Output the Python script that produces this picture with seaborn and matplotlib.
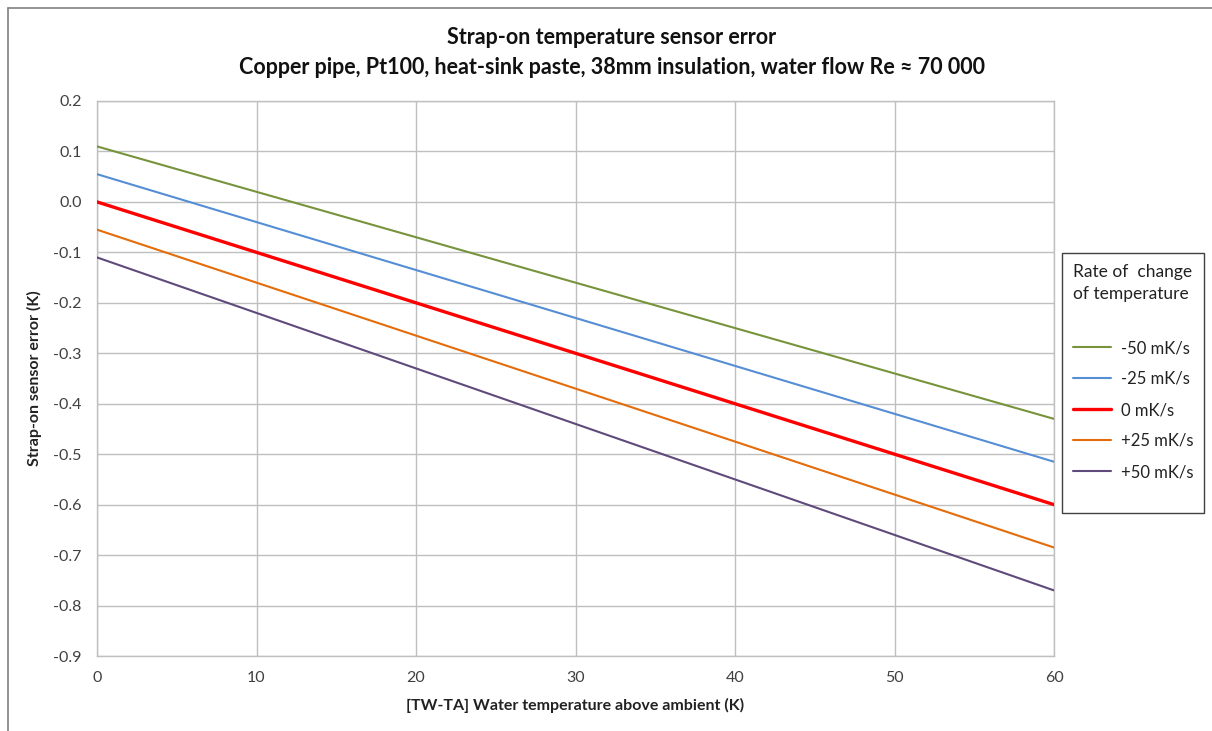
import numpy as np
import pandas as pd
import matplotlib
matplotlib.use("Agg")
import matplotlib.pyplot as plt
from matplotlib.lines import Line2D
from matplotlib.patches import Rectangle
import seaborn as sns

x_vals = [0, 10, 20, 30, 40, 50, 60]
series_labels = ["-50 mK/s", "-25 mK/s", "0 mK/s", "+25 mK/s", "+50 mK/s"]
s_m50 = [0.11, 0.02, -0.07, -0.16, -0.25, -0.34, -0.43]
s_m25 = [0.055, -0.04, -0.135, -0.23, -0.325, -0.42, -0.515]
s_0 = [0.0, -0.1, -0.2, -0.3, -0.4, -0.5, -0.6]
s_p25 = [-0.055, -0.16, -0.265, -0.37, -0.475, -0.58, -0.685]
s_p50 = [-0.11, -0.22, -0.33, -0.44, -0.55, -0.66, -0.77]
y_ticks = [-0.9, -0.8, -0.7, -0.6, -0.5, -0.4, -0.3, -0.2, -0.1, 0.0, 0.1, 0.2]
y_tick_labels = ["-0.9", "-0.8", "-0.7", "-0.6", "-0.5", "-0.4", "-0.3", "-0.2",
                 "-0.1", "0.0", "0.1", "0.2"]
colors = ["#77933C", "#558ED5", "#FF0000", "#E46C0A", "#604A7B"]
widths = [1.5, 1.5, 2.4, 1.5, 1.5]

rows = []
for lab, vals in zip(series_labels, [s_m50, s_m25, s_0, s_p25, s_p50]):
    for xv, yv in zip(x_vals, vals):
        rows.append({"x": xv, "y": yv, "rate": lab})
df = pd.DataFrame(rows)

sns.set_theme(style="white")
plt.rcParams['font.family'] = ['Lato', 'DejaVu Sans']

W, H = 1212, 731
fig = plt.figure(figsize=(W/100, H/100), dpi=100)
ax = fig.add_axes([97/W, 1-656/H, (1054-97)/W, (656-101)/H])

sns.lineplot(data=df, x="x", y="y", hue="rate", hue_order=series_labels,
             palette=colors, ax=ax, legend=False)
for line, w in zip(ax.get_lines(), widths):
    line.set_linewidth(w)
    line.set_zorder(3)

ax.set_xlim(0, 60)
ax.set_ylim(-0.9, 0.2)
ax.set_xticks(np.arange(0, 61, 10))
ax.set_yticks(y_ticks)
ax.set_yticklabels(y_tick_labels)
ax.grid(True, color="#BFBFBF", linewidth=1.0)
ax.set_axisbelow(True)
for sp in ax.spines.values():
    sp.set_color("#BFBFBF")
    sp.set_linewidth(1.0)
ax.tick_params(axis="both", labelsize=11.5, colors="#404040", length=5,
               width=1, direction="out", pad=6)
ax.tick_params(axis="both", color="#BFBFBF")
for lab in ax.get_xticklabels() + ax.get_yticklabels():
    lab.set_color("#404040")

ax.set_xlabel("[TW-TA] Water temperature above ambient (K)", fontsize=11.5,
              fontweight="bold", color="#222222", labelpad=9)
ax.set_ylabel("Strap-on sensor error (K)", fontsize=11.5, fontweight="bold",
              color="#222222", labelpad=8)

fig.text(612/W, 1-38/H, "Strap-on temperature sensor error", ha="center",
         va="center", fontsize=15.5, fontweight="bold", color="#111111")
fig.text(612/W, 1-68/H,
         "Copper pipe, Pt100, heat-sink paste, 38mm insulation, water flow Re \u2248 70 000",
         ha="center", va="center", fontsize=15.5, fontweight="bold", color="#111111")

# legend box
fig.add_artist(Rectangle((1062/W, 1-513/H), (1204-1062)/W, (513-253)/H,
                         transform=fig.transFigure, facecolor="white",
                         edgecolor="#404040", linewidth=1.0, zorder=4))

handles = [Line2D([0], [0], color=c, lw=w) for c, w in zip(colors, widths)]
leg = fig.legend(handles, series_labels, title="Rate of  change\nof temperature\n",
                 loc="upper center", bbox_to_anchor=(1133/W, 1-259/H),
                 frameon=False, fontsize=12, title_fontsize=12.5,
                 handlelength=2.3, labelspacing=0.9, borderpad=0.3,
                 handletextpad=0.6, borderaxespad=0)
leg.set_zorder(5)
leg.get_title().set_color("#222222")
leg.get_title().set_linespacing(1.5)
for t in leg.get_texts():
    t.set_color("#222222")

fig.add_artist(Line2D([8/W, 8/W], [0, 1-8/H], transform=fig.transFigure,
                      color="#808080", lw=1.2))
fig.add_artist(Line2D([8/W, 1], [1-8/H, 1-8/H], transform=fig.transFigure,
                      color="#808080", lw=1.2))

fig.savefig("out.png", dpi=100)
